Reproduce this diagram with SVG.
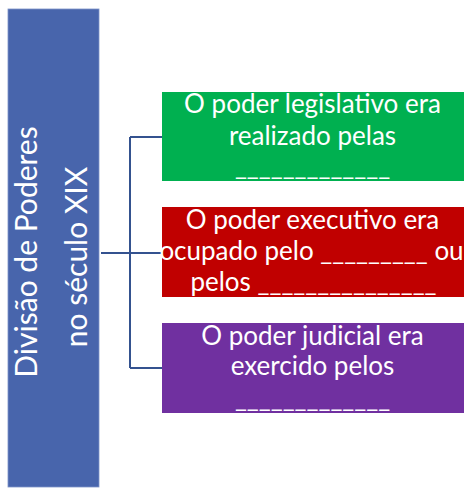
<svg xmlns="http://www.w3.org/2000/svg" width="464" height="490" viewBox="0 0 464 490">
  <style>
    .t { font-family: Lato, "Open Sans", sans-serif; fill: #ffffff; text-anchor: middle; }
    .b { font-size: 26px; }
    .v { font-size: 30px; }
    .conn { stroke: #34528f; stroke-width: 2; fill: none; }
  </style>
  <rect width="464" height="490" fill="#ffffff"/>
  <g id="root">
    <rect x="8" y="9" width="91" height="478" fill="#4865ac" stroke="#7d93c8" stroke-width="0.8"/>
    <text class="t v" transform="translate(37,252) rotate(-90)">Divisão de Poderes</text>
    <text class="t v" transform="translate(87,257) rotate(-90)">no século XIX</text>
  </g>
  <g id="connectors">
    <path class="conn" d="M101,253 H162 M130,137 V368 M130,137 H162 M130,368 H162"/>
  </g>
  <g id="legislativo">
    <rect x="162" y="92" width="302" height="89" fill="#00b050"/>
    <text class="t b" x="312.5" y="113">O poder legislativo era</text>
    <text class="t b" x="312.5" y="145">realizado pelas</text>
    <text class="t b" x="312.5" y="175">_____________</text>
  </g>
  <g id="executivo">
    <rect x="162" y="207" width="302" height="90" fill="#c00000"/>
    <text class="t b" x="312.5" y="229">O poder executivo era</text>
    <text class="t b" x="311.5" y="260">ocupado pelo _________ ou</text>
    <text class="t b" x="313.5" y="291">pelos _______________</text>
  </g>
  <g id="judicial">
    <rect x="162" y="323" width="302" height="90" fill="#7030a0"/>
    <text class="t b" x="312.5" y="345">O poder judicial era</text>
    <text class="t b" x="312.5" y="375">exercido pelos</text>
    <text class="t b" x="312.5" y="407">_____________</text>
  </g>
</svg>
